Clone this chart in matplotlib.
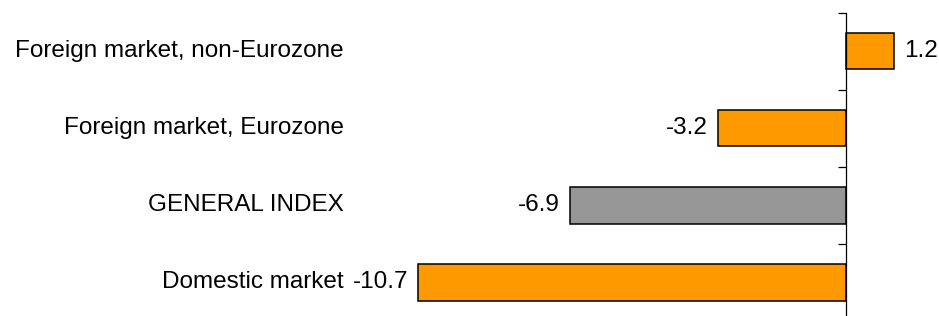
import matplotlib
matplotlib.use("Agg")
import matplotlib.pyplot as plt
from matplotlib.transforms import blended_transform_factory

categories = ["Domestic market", "GENERAL INDEX", "Foreign market, Eurozone", "Foreign market, non-Eurozone"]
values = [-10.7, -6.9, -3.2, 1.2]
labels = ["-10.7", "-6.9", "-3.2", "1.2"]
colors = ["#FF9900", "#969696", "#FF9900", "#FF9900"]

plt.rcParams['font.family'] = ['Liberation Sans', 'DejaVu Sans']

W, H = 939, 316
fig = plt.figure(figsize=(W / 100, H / 100), dpi=100)
left_px, right_px, top_px, bot_px = 350, 939, 12.7, 321
ax = fig.add_axes([left_px / W, 1 - bot_px / H, (right_px - left_px) / W, (bot_px - top_px) / H])

zero_px = 846
ppu = 40.0
ax.set_xlim(-(zero_px - left_px) / ppu, (right_px - zero_px) / ppu)
ax.set_ylim(-0.5, len(categories) - 0.5)

y = list(range(len(categories)))
ax.barh(y, values, height=0.47, color=colors, edgecolor="black", linewidth=1.1, zorder=2)

for s in ["top", "right", "bottom"]:
    ax.spines[s].set_visible(False)
ax.spines["left"].set_position(("data", 0))
ax.spines["left"].set_linewidth(0.9)
ax.set_xticks([])
ax.set_yticks([])
ax.set_yticks([i - 0.5 for i in range(len(categories) + 1)], minor=True)
ax.tick_params(axis="y", which="minor", direction="out", length=6, width=0.9, labelleft=False)

fs = 17.5
trans = blended_transform_factory(ax.transAxes, ax.transData)
for i, c in enumerate(categories):
    ax.text(-0.01, i, c, transform=trans, ha="right", va="center", fontsize=fs)

for i, (v, l) in enumerate(zip(values, labels)):
    off = 0.25
    if v >= 0:
        ax.text(v + off, i, l, ha="left", va="center", fontsize=fs)
    else:
        ax.text(v - off, i, l, ha="right", va="center", fontsize=fs)

fig.savefig("out.png", dpi=100)
